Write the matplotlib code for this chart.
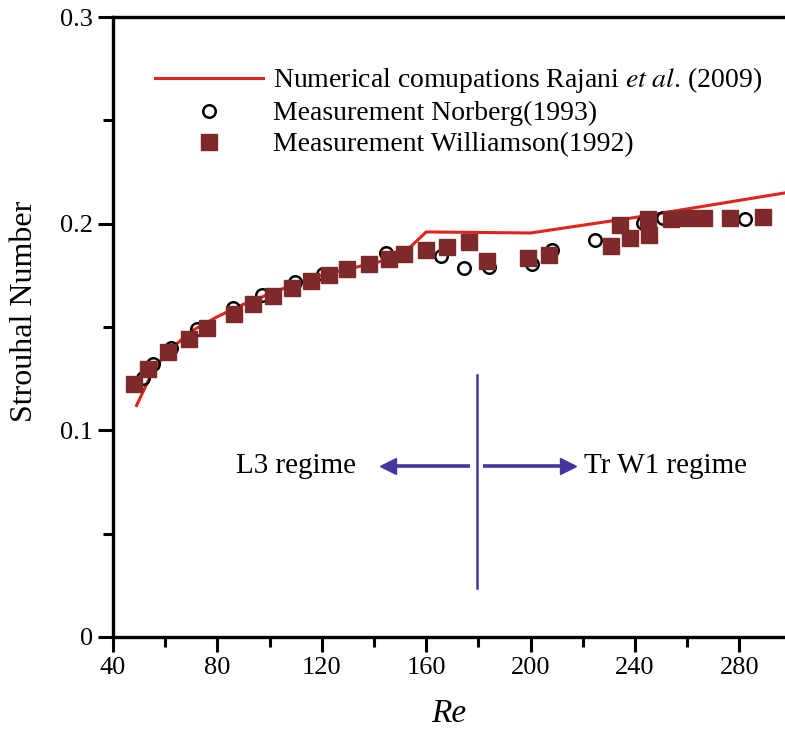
import matplotlib

matplotlib.use("Agg")
import matplotlib.pyplot as plt
from matplotlib.ticker import MultipleLocator

# Rajani et al. (2009) numerical curve
rajani_re = [49, 55, 60, 70, 80, 90, 100, 110, 120, 130, 140, 150, 160, 200, 240, 298]
rajani_st = [0.112, 0.128, 0.137, 0.148, 0.155, 0.161, 0.166, 0.171, 0.175, 0.178,
             0.181, 0.184, 0.196, 0.1955, 0.203, 0.215]

# Norberg (1993) measurements
norberg_re = [51.6, 55.4, 62.1, 72.0, 86.1, 97.0, 109.7, 120.3, 144.6, 165.5, 174.4,
              184.2, 200.4, 208.4, 224.7, 243.2, 250.9, 282.1]
norberg_st = [0.1252, 0.1323, 0.1396, 0.1492, 0.1590, 0.1655, 0.1720, 0.1758, 0.1856,
              0.1843, 0.1787, 0.1789, 0.1807, 0.1875, 0.1921, 0.2003, 0.2027, 0.2025]

# Williamson (1992) measurements
williamson_re = [48.0, 53.5, 61.2, 69.1, 76.1, 86.5, 93.5, 101.4, 108.6, 116.0, 122.9,
                 129.5, 138.1, 145.8, 151.5, 159.8, 167.8, 176.5, 183.3, 199.0, 206.9,
                 230.7, 234.2, 238.1, 245.1, 245.5, 253.8, 259.8, 266.5, 276.6, 289.2]
williamson_st = [0.1224, 0.1297, 0.1377, 0.1440, 0.1497, 0.1561, 0.1610, 0.1650, 0.1690,
                 0.1725, 0.1753, 0.1780, 0.1807, 0.1831, 0.1853, 0.1872, 0.1885, 0.1910,
                 0.1820, 0.1835, 0.1848, 0.1890, 0.1993, 0.1930, 0.2022, 0.1944, 0.2025,
                 0.2028, 0.2028, 0.2028, 0.2033]

regime_re = 179.5
arrow_y = 0.0827
# shaft ends and arrow-head tips (Re)
left_arrow = (176.8, 141.8)
right_arrow = (181.8, 217.8)

plt.rcParams["font.family"] = ["Liberation Serif", "DejaVu Serif"]
plt.rcParams["mathtext.fontset"] = "stix"

fig = plt.figure(figsize=(7.85, 7.3), dpi=100)
ax = fig.add_axes([0.144, 0.1274, 0.856, 0.8493])

ax.plot(rajani_re, rajani_st, color="#e0231f", lw=2.2, zorder=2,
        label="Numerical comupations Rajani $\\it{et\\ al}$. (2009)")
ax.plot(norberg_re, norberg_st, ls="none", marker="o", ms=9, mfc="none", mec="black",
        mew=1.8, zorder=3, label="Measurement Norberg(1993)")
ax.plot(williamson_re, williamson_st, ls="none", marker="s", ms=11.5, color="#7f2a2a",
        mec="#7f2a2a", zorder=4, label="Measurement Williamson(1992)")

# regime divider and arrows
blue = "#47359f"
ax.plot([regime_re, regime_re], [0.0237, 0.1268], color=blue, lw=1.8)
head = 3.5  # head length in Re units (about 9 px)
for tail, tip in [left_arrow, right_arrow]:
    sign = 1 if tip > tail else -1
    ax.plot([tail, tip - sign * head], [arrow_y, arrow_y], color=blue, lw=2.6,
            solid_capstyle="butt")
    ax.plot(tip - sign * head, arrow_y, ls="none", marker=">" if sign > 0 else "<",
            ms=11, color=blue, mec=blue)
ax.text(110, arrow_y, "L3 regime", fontsize=21, ha="center", va="center")
ax.text(220.3, arrow_y, "Tr W1 regime", fontsize=21, ha="left", va="center")

ax.set_xlim(40, 297.5)
ax.set_ylim(0, 0.3)
ax.xaxis.set_major_locator(MultipleLocator(40))
ax.xaxis.set_minor_locator(MultipleLocator(20))
ax.set_yticks([0, 0.1, 0.2, 0.3])
ax.set_yticklabels(["0", "0.1", "0.2", "0.3"])
ax.yaxis.set_minor_locator(MultipleLocator(0.05))

ax.tick_params(which="major", direction="out", length=11, width=2.2, labelsize=19,
               right=False, top=False)
ax.tick_params(which="minor", direction="out", length=7, width=2.2, right=False, top=False)
for side in ["left", "bottom", "top"]:
    ax.spines[side].set_linewidth(2.4)
ax.spines["right"].set_visible(False)

ax.set_ylabel("Strouhal Number", fontsize=23)
ax.yaxis.set_label_coords(-0.11, 0.525)
ax.set_xlabel("Re", fontsize=24, style="italic", labelpad=14)

ax.legend(loc="upper left", bbox_to_anchor=(0.046, 0.94), frameon=False, fontsize=20,
          handlelength=3.9, handletextpad=0.36, borderaxespad=0, labelspacing=0.2)

fig.savefig("out.png", dpi=100)
